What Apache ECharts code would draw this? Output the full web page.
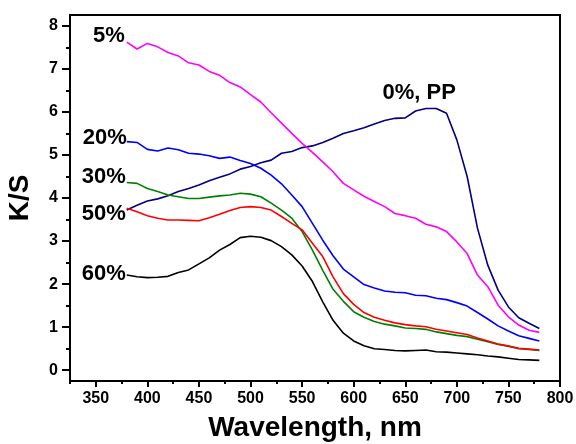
<!DOCTYPE html>
<html><head><meta charset="utf-8">
<script src="https://cdn.jsdelivr.net/npm/echarts@6/dist/echarts.min.js"></script>
<style>html,body{margin:0;padding:0;background:#fff}#c{width:576px;height:444px}</style>
</head><body><div id="c"></div>
<script>
const wavelengths = [380,390,400,410,420,430,440,450,460,470,480,490,500,510,520,530,540,550,560,570,580,590,600,610,620,630,640,650,660,670,680,690,700,710,720,730,740,750,760,770,780];
const ksPP = [3.72,3.83,3.93,3.98,4.05,4.15,4.22,4.30,4.40,4.48,4.56,4.67,4.73,4.82,4.88,5.04,5.08,5.17,5.21,5.29,5.39,5.50,5.56,5.63,5.72,5.80,5.85,5.86,6.02,6.08,6.08,5.97,5.35,4.50,3.30,2.44,1.86,1.47,1.22,1.09,0.97];
const ks5 = [7.62,7.46,7.59,7.51,7.38,7.30,7.14,7.09,6.94,6.85,6.68,6.58,6.40,6.23,5.98,5.74,5.50,5.27,5.06,4.84,4.61,4.34,4.19,4.04,3.92,3.80,3.64,3.59,3.53,3.39,3.33,3.22,2.98,2.71,2.21,1.94,1.51,1.24,1.05,0.93,0.88];
const ks20 = [5.31,5.29,5.13,5.09,5.16,5.12,5.04,5.02,4.98,4.92,4.95,4.87,4.80,4.69,4.53,4.33,4.07,3.80,3.41,3.02,2.66,2.35,2.17,1.99,1.91,1.84,1.81,1.80,1.74,1.73,1.67,1.64,1.57,1.49,1.34,1.19,1.03,0.91,0.80,0.74,0.68];
const ks30 = [4.36,4.34,4.22,4.15,4.07,4.03,3.99,3.99,4.02,4.05,4.07,4.11,4.09,4.03,3.88,3.72,3.53,3.22,2.79,2.32,1.88,1.60,1.36,1.23,1.13,1.07,1.03,0.98,0.97,0.95,0.89,0.85,0.81,0.78,0.72,0.66,0.60,0.56,0.50,0.48,0.46];
const ks50 = [3.76,3.68,3.59,3.53,3.49,3.49,3.48,3.47,3.54,3.62,3.71,3.78,3.80,3.78,3.72,3.57,3.41,3.26,2.95,2.64,2.17,1.78,1.53,1.34,1.23,1.16,1.10,1.06,1.03,1.01,0.95,0.91,0.87,0.83,0.75,0.68,0.61,0.56,0.51,0.49,0.47];
const ks60 = [2.21,2.17,2.15,2.16,2.18,2.27,2.33,2.47,2.61,2.79,2.92,3.08,3.11,3.09,3.01,2.87,2.68,2.42,2.06,1.59,1.16,0.86,0.68,0.57,0.50,0.48,0.46,0.45,0.46,0.47,0.43,0.42,0.40,0.38,0.36,0.33,0.31,0.28,0.25,0.24,0.23];
const seriesNames = ['0%, PP','5%','20%','30%','50%','60%'];
const xMajorTicks = [350,400,450,500,550,600,650,700,750,800];
const xMinorTicks = [325,375,425,475,525,575,625,675,725,775];
const yMajorTicks = [0,1,2,3,4,5,6,7,8];
const yMinorTicks = [0.5,1.5,2.5,3.5,4.5,5.5,6.5,7.5];

const FONT = '"Liberation Sans", Arial, sans-serif';
const chart = echarts.init(document.getElementById('c'), null, {renderer:'canvas'});

function pairs(vals){ return wavelengths.map((w,i)=>[w, vals[i]]); }
function lbl(text, pos, distance, offset){
  return {show:true, formatter:text, position:pos, distance:distance, offset:offset,
    color:'#000', fontSize:22, fontWeight:'bold', fontFamily:FONT};
}
function mkSeries(name, vals, color, anchorIdx, pos, dist, off){
  return {
    name:name, type:'line', data:pairs(vals), showSymbol:false, symbol:'none',
    xAxisIndex:0, yAxisIndex:0, smooth:false,
    lineStyle:{color:color, width:1.6}, itemStyle:{color:color},
    animation:false, silent:true,
    markPoint:{silent:true, animation:false, symbol:'circle', symbolSize:0,
      itemStyle:{color:'rgba(0,0,0,0)'},
      data:[{coord:[wavelengths[anchorIdx], vals[anchorIdx]], label:lbl(name, pos, dist, off)}]}
  };
}

const option = {
  backgroundColor:'#fff',
  animation:false,
  grid:{left:70, right:16, top:15, bottom:63, show:true, borderColor:'#000', borderWidth:2, backgroundColor:'transparent', outerBoundsMode:'none'},
  xAxis:[
    {type:'value', min:325, max:800, position:'bottom',
     axisLine:{show:true, onZero:false, lineStyle:{color:'#000', width:2}},
     axisTick:{show:true, length:6, customValues:xMajorTicks, lineStyle:{color:'#000', width:2}},
     axisLabel:{show:true, customValues:xMajorTicks, margin:10, color:'#000', fontSize:16, fontWeight:'bold', fontFamily:FONT},
     splitLine:{show:false},
     name:'Wavelength, nm', nameLocation:'middle', nameGap:33,
     nameTextStyle:{color:'#000', fontSize:28, fontWeight:'bold', fontFamily:FONT}},
    {type:'value', min:325, max:800, position:'bottom',
     axisLine:{show:false, onZero:false},
     axisTick:{show:true, length:3, customValues:xMinorTicks, lineStyle:{color:'#000', width:2}},
     axisLabel:{show:false}, splitLine:{show:false}}
  ],
  yAxis:[
    {type:'value', min:-0.25, max:8.25, position:'left',
     axisLine:{show:true, onZero:false, lineStyle:{color:'#000', width:2}},
     axisTick:{show:true, length:8, customValues:yMajorTicks, lineStyle:{color:'#000', width:2}},
     axisLabel:{show:true, customValues:yMajorTicks, margin:12, color:'#000', fontSize:16, fontWeight:'bold', fontFamily:FONT},
     splitLine:{show:false},
     name:'K/S', nameLocation:'middle', nameGap:36, nameRotate:90,
     nameTextStyle:{color:'#000', fontSize:28, fontWeight:'bold', fontFamily:FONT}},
    {type:'value', min:-0.25, max:8.25, position:'left',
     axisLine:{show:false, onZero:false},
     axisTick:{show:true, length:4, customValues:yMinorTicks, lineStyle:{color:'#000', width:2}},
     axisLabel:{show:false}, splitLine:{show:false}}
  ],
  series:[
    mkSeries(seriesNames[0], ksPP, '#000080', 30, 'top', 5, [-17, 0]),
    mkSeries(seriesNames[1], ks5, '#FF00FF', 0, 'left', 2, [0, -6]),
    mkSeries(seriesNames[2], ks20, '#0000FF', 0, 'left', 0, [0, -4]),
    mkSeries(seriesNames[3], ks30, '#008000', 0, 'left', 1, [0, -6]),
    mkSeries(seriesNames[4], ks50, '#FF0000', 0, 'left', 1, [0, 6]),
    mkSeries(seriesNames[5], ks60, '#000000', 0, 'left', 1, [0, -1])
  ]
};
chart.setOption(option);
</script>
</body></html>
